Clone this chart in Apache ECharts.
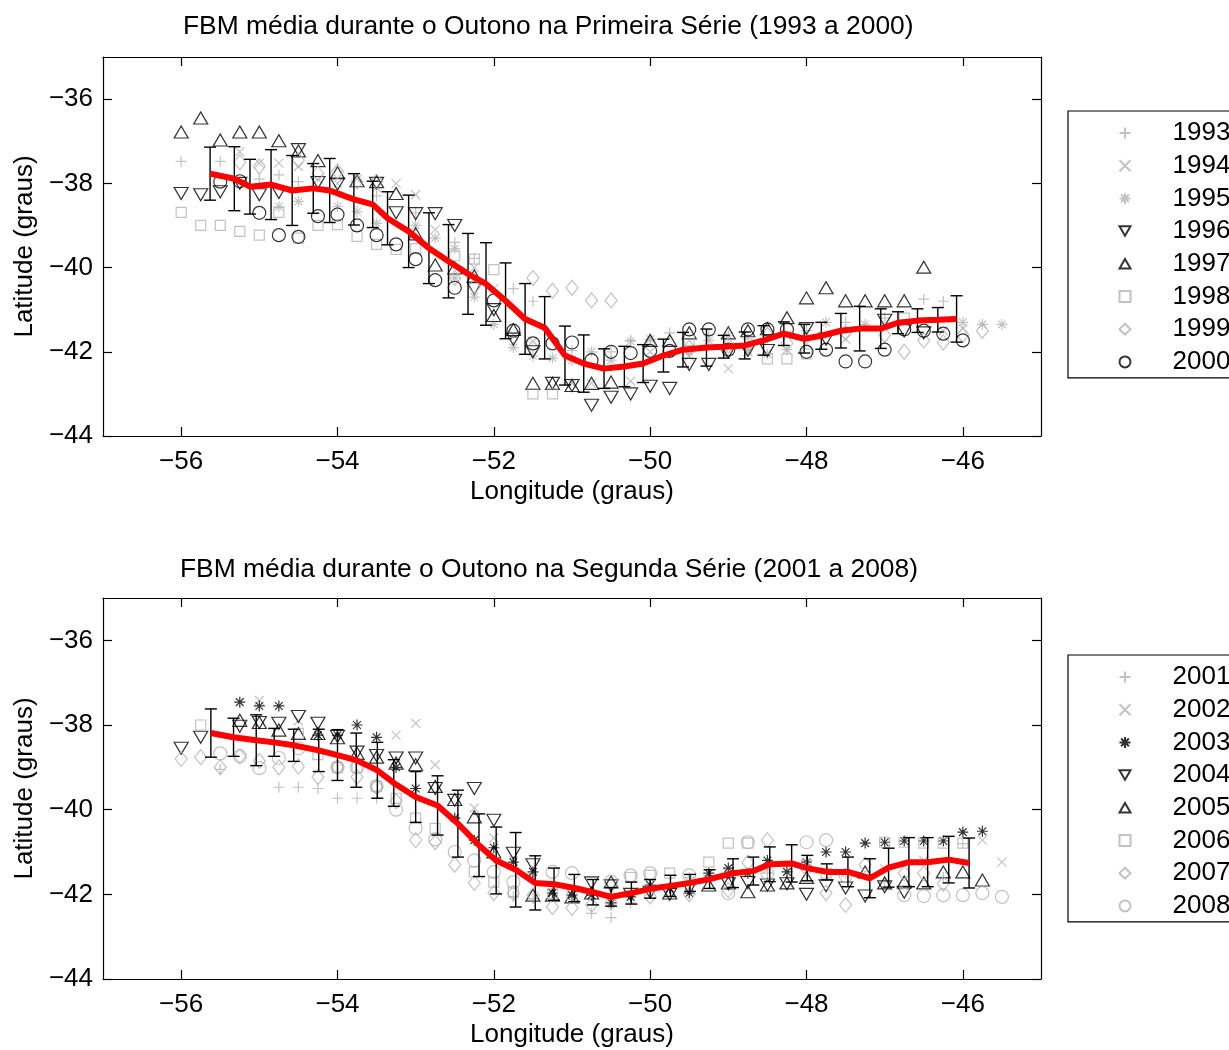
<!DOCTYPE html>
<html><head><meta charset="utf-8">
<script src="https://cdn.jsdelivr.net/npm/echarts@6/dist/echarts.min.js"></script>
<style>html,body{margin:0;padding:0;background:#fff}#c{width:1229px;height:1050px}</style>
</head><body><div id="c"></div>
<script>
// ---------- DATA ----------
const TITLE1 = 'FBM média durante o Outono na Primeira Série (1993 a 2000)';
const TITLE2 = 'FBM média durante o Outono na Segunda Série (2001 a 2008)';
const X_TICKS = [-56, -54, -52, -50, -48, -46];
const Y_TICKS = [-44, -42, -40, -38, -36];
const YEARS1 = ['1993','1994','1995','1996','1997','1998','1999','2000'];
const YEARS2 = ['2001','2002','2003','2004','2005','2006','2007','2008'];

// [longitude, latitude] per year, first series
const S1993 = [[-56,-37.48],[-55.5,-37.48],[-55,-37.9],[-54.75,-37.8],[-54.5,-37.96],[-54,-38.2],[-53.5,-38.3],[-53,-38.7],[-52.5,-39.4],[-52.25,-39.78],[-51.75,-40.5],[-51.5,-40.8],[-51,-41.97],[-50.5,-42.0],[-50.25,-41.73],[-50,-41.73],[-49.75,-41.55],[-49.25,-41.6],[-48.75,-41.7],[-48,-41.5],[-47.5,-41.3],[-47,-41.2],[-46.5,-40.75],[-46.25,-40.8]];
const S1994 = [[-55.25,-37.25],[-55,-37.52],[-54.75,-37.52],[-54.5,-37.6],[-54.25,-37.9],[-54,-38.0],[-53.75,-37.9],[-53.5,-38.1],[-53.25,-38.0],[-53,-38.27],[-52.75,-39.1],[-52.25,-40.0],[-52,-40.5],[-51.75,-41.6],[-51.5,-41.75],[-51,-42.75],[-50.75,-42.75],[-50.25,-42.7],[-50,-42.0],[-49.5,-42.1],[-49,-42.4],[-48.75,-42.0],[-48.25,-41.6],[-48,-41.8],[-47.5,-41.7],[-46.25,-41.5],[-46,-41.45]];
const S1995 = [[-54.75,-38.55],[-54.5,-38.43],[-54,-38.55],[-53.75,-38.67],[-53.5,-38.95],[-53,-39.0],[-52.75,-39.3],[-52.5,-39.55],[-52.5,-40.25],[-52.25,-40.7],[-52,-41.35],[-51.75,-41.9],[-51.5,-42.1],[-51.25,-42.15],[-51,-42.2],[-50.75,-42.0],[-50.5,-42.2],[-50.25,-41.75],[-50,-41.7],[-49.5,-42.0],[-49.25,-41.73],[-49,-41.62],[-48.75,-41.95],[-48.5,-42.05],[-48.25,-41.95],[-47.75,-41.3],[-47.25,-41.35],[-46,-41.3],[-45.75,-41.35],[-45.5,-41.35]];
const S1996 = [[-56,-38.24],[-55.75,-38.27],[-55.5,-38.2],[-55.25,-38.0],[-55,-38.27],[-54.75,-38.22],[-54.5,-37.2],[-54.25,-37.98],[-54,-38.02],[-53.5,-38.0],[-53.25,-38.7],[-53,-38.72],[-52.75,-38.72],[-52.5,-39.0],[-52.25,-40.5],[-52,-41.0],[-51.75,-41.7],[-51.5,-42.0],[-51.25,-42.75],[-51,-42.8],[-50.75,-43.27],[-50.5,-43.08],[-50.25,-43.0],[-50,-42.82],[-49.75,-42.87],[-49.5,-42.3],[-49.25,-42.3],[-49,-42.0],[-48.75,-41.97],[-48.5,-41.97],[-48,-41.45],[-47.75,-41.7],[-47,-41.25],[-46.75,-41.5],[-46.5,-41.55]];
const S1997 = [[-56,-36.78],[-55.75,-36.45],[-55.5,-36.97],[-55.25,-36.78],[-55,-36.78],[-54.75,-36.99],[-54.5,-37.23],[-54.25,-37.46],[-54,-37.75],[-53.75,-37.94],[-53.5,-37.96],[-53.25,-38.24],[-53,-39.2],[-52.75,-39.94],[-52.5,-40.01],[-52.25,-40.2],[-52,-41.14],[-51.75,-41.47],[-51.5,-42.75],[-51.25,-42.75],[-51,-42.8],[-50.75,-42.75],[-50.5,-42.72],[-50,-41.73],[-49.75,-41.73],[-49.5,-41.55],[-49,-41.55],[-48.75,-41.5],[-48.5,-41.45],[-48.25,-41.19],[-48,-40.72],[-47.75,-40.48],[-47.5,-40.79],[-47.25,-40.79],[-47,-40.79],[-46.75,-40.79],[-46.5,-39.99]];
const S1998 = [[-56,-38.69],[-55.75,-39.0],[-55.5,-39.0],[-55.25,-39.14],[-55,-39.23],[-54.75,-38.69],[-54.5,-39.3],[-54.25,-39.0],[-54,-38.98],[-53.75,-39.26],[-53.5,-39.45],[-53.25,-39.57],[-53,-39.55],[-52.5,-39.72],[-52.25,-39.8],[-52,-40.05],[-51.5,-43.0],[-51.25,-43.0],[-49.5,-41.73],[-48.5,-42.17],[-48.25,-42.17],[-48,-42.05],[-46.75,-41.2]];
const S1999 = [[-55.25,-37.5],[-55,-37.6],[-54.5,-37.45],[-54.25,-37.77],[-54,-37.72],[-53.75,-37.96],[-53.5,-37.96],[-52.5,-40.25],[-52.25,-40.45],[-51.5,-40.25],[-51.25,-40.55],[-51,-40.48],[-50.75,-40.78],[-50.5,-40.78],[-49.5,-41.9],[-49,-41.85],[-48.5,-41.6],[-48.25,-41.8],[-47.5,-41.55],[-47,-41.6],[-46.75,-42.0],[-46.5,-41.73],[-46.25,-41.78],[-46,-41.6],[-45.75,-41.5]];
const S2000 = [[-55.5,-37.96],[-55.25,-37.95],[-55,-38.7],[-54.75,-39.23],[-54.5,-39.27],[-54.25,-38.78],[-54,-38.74],[-53.75,-39.0],[-53.5,-39.23],[-53.25,-39.45],[-53,-39.8],[-52.75,-40.3],[-52.5,-40.48],[-52,-40.78],[-51.75,-41.5],[-51.5,-41.8],[-51.25,-41.8],[-51,-41.78],[-50.75,-42.2],[-50.5,-42.0],[-50.25,-42.03],[-50,-41.98],[-49.75,-41.98],[-49.5,-41.47],[-49.25,-41.47],[-49,-41.95],[-48.75,-41.47],[-48.5,-41.47],[-48.25,-41.47],[-48,-42.0],[-47.75,-41.95],[-47.5,-42.23],[-47.25,-42.23],[-47,-41.95],[-46.75,-41.47],[-46.5,-41.5],[-46.25,-41.57],[-46,-41.73]];

// second series
const S2001 = [[-55.5,-39.05],[-54.75,-39.47],[-54.5,-39.47],[-54.25,-39.5],[-54,-39.73],[-53.75,-39.73],[-53.5,-39.73],[-51.75,-42.06],[-51.5,-42.1],[-50.75,-42.45],[-50.5,-42.55],[-50.25,-42.2],[-50,-41.9],[-49.5,-41.6],[-49.25,-41.55],[-48.5,-41.5],[-48,-41.4],[-47.5,-41.5],[-47,-41.7],[-46.25,-41.6],[-46,-40.8]];
const S2002 = [[-55,-37.42],[-54.5,-37.9],[-53.25,-38.24],[-53,-37.96],[-52.75,-38.94],[-52.25,-39.96],[-52,-40.67],[-51.75,-41.2],[-51.5,-41.6],[-51,-42.0],[-50.5,-41.9],[-50,-41.8],[-49.5,-41.7],[-49,-41.5],[-48.5,-41.4],[-48,-41.3],[-47.5,-41.5],[-47,-41.4],[-46.5,-41.2],[-45.75,-40.72],[-45.5,-41.24]];
const S2003 = [[-55.25,-37.46],[-55,-37.55],[-54.75,-37.55],[-54.25,-38.24],[-54,-38.24],[-53.75,-38.0],[-53.5,-38.29],[-53.25,-39.0],[-53,-39.5],[-52.5,-40.2],[-52.25,-40.72],[-52,-40.9],[-51.75,-41.24],[-51.5,-41.47],[-51.25,-41.97],[-51,-42.02],[-50.75,-42.02],[-50.5,-42.2],[-50.25,-42.06],[-50,-41.78],[-49.75,-41.85],[-49.5,-41.97],[-49.25,-41.5],[-49,-41.38],[-48.75,-41.5],[-48.5,-41.2],[-48.25,-41.47],[-48,-41.24],[-47.75,-41.0],[-47.5,-41.0],[-47.25,-40.79],[-47,-40.77],[-46.75,-40.74],[-46.5,-40.74],[-46.25,-40.74],[-46,-40.53],[-45.75,-40.51]];
const S2004 = [[-56,-38.55],[-55.75,-38.29],[-55.25,-38.03],[-55,-37.94],[-54.75,-37.96],[-54.5,-37.8],[-54.25,-37.96],[-54,-38.27],[-53.75,-38.64],[-53.5,-38.72],[-53.25,-38.78],[-53,-38.78],[-52.75,-39.5],[-52.5,-39.78],[-52.25,-39.5],[-52,-40.25],[-51.75,-41.03],[-51.5,-41.3],[-50.75,-41.73],[-50.5,-41.8],[-50.25,-42.0],[-50,-41.95],[-49.75,-42.0],[-49.5,-41.85],[-49,-41.75],[-48.75,-41.72],[-48.5,-41.78],[-48.25,-41.75],[-48,-42.0],[-47.75,-41.8],[-47.5,-41.85],[-47.25,-42.04],[-47,-41.82],[-46.75,-41.95]];
const S2005 = [[-55.25,-37.89],[-55,-37.94],[-54.75,-38.12],[-54.5,-38.2],[-54.25,-38.2],[-54,-38.3],[-53.75,-38.67],[-53.5,-38.76],[-53.25,-38.9],[-53,-38.94],[-52.75,-39.45],[-52.5,-39.76],[-52.25,-40.17],[-52,-41.0],[-51.5,-42.02],[-51.25,-42.02],[-51,-42.06],[-50.75,-41.97],[-50.5,-41.71],[-49.75,-41.97],[-49.25,-41.78],[-49,-41.73],[-48.75,-41.94],[-48.5,-41.78],[-48.25,-41.73],[-48,-41.6],[-47.25,-41.47],[-47,-41.73],[-46.75,-41.71],[-46.5,-41.73],[-46.25,-41.47],[-46,-41.47],[-45.75,-41.66]];
const S2006 = [[-55.75,-38.0],[-54.5,-38.2],[-54.25,-38.7],[-54,-39.0],[-53.75,-39.0],[-53.5,-39.45],[-53.25,-39.73],[-53,-40.2],[-52.75,-40.44],[-52.25,-41.47],[-52,-41.71],[-51.75,-41.94],[-51.25,-41.98],[-51,-42.0],[-50.25,-41.6],[-50,-41.55],[-49.75,-41.5],[-49.25,-41.24],[-49,-40.79],[-48.75,-40.79],[-48,-41.3],[-47.75,-41.5],[-47,-40.77],[-46.75,-40.77],[-46.5,-40.79],[-46.25,-40.79],[-46,-40.79]];
const S2007 = [[-56,-38.8],[-55.75,-38.76],[-55.5,-39.0],[-55.25,-38.74],[-55,-38.85],[-54.75,-39.0],[-54.5,-38.98],[-54.25,-39.23],[-54,-39.0],[-53.75,-39.23],[-53.5,-39.46],[-53.25,-39.8],[-53,-40.72],[-52.75,-40.77],[-52.5,-41.3],[-52.25,-41.73],[-52,-41.97],[-51.75,-41.97],[-51.5,-42.02],[-51.25,-42.3],[-51,-42.32],[-50.75,-42.25],[-50.5,-42.2],[-50,-42.05],[-49.5,-42.0],[-49,-41.9],[-48.75,-41.25],[-48.5,-40.72],[-48,-41.4],[-47.75,-41.97],[-47.5,-42.25],[-47.25,-41.3],[-46.75,-41.5],[-46.5,-41.5],[-46.25,-41.75]];
const S2008 = [[-55.5,-38.67],[-55.25,-38.74],[-55,-39.02],[-54.75,-38.78],[-54.5,-38.55],[-54,-39.0],[-53.75,-39.0],[-53.5,-39.45],[-53.25,-40.0],[-53,-40.44],[-52.75,-40.7],[-52.5,-41.0],[-52.25,-41.2],[-52,-41.47],[-51.75,-41.71],[-51.25,-41.47],[-51,-41.5],[-50.5,-41.7],[-50.25,-41.55],[-50,-41.5],[-49.5,-41.55],[-49,-41.97],[-48.75,-40.77],[-48.5,-41.5],[-48,-40.77],[-47.75,-40.72],[-47.5,-41.55],[-46.75,-42.02],[-46.5,-42.04],[-46.25,-42.02],[-46,-42.02],[-45.75,-41.97],[-45.5,-42.06]];

// mean position and standard deviation
const M1_LON = [-55.63,-55.32,-55.12,-54.85,-54.58,-54.31,-54.10,-53.79,-53.55,-53.36,-53.09,-52.83,-52.58,-52.33,-52.10,-51.85,-51.60,-51.35,-51.09,-50.85,-50.59,-50.33,-50.09,-49.83,-49.58,-49.28,-49.06,-48.79,-48.55,-48.29,-48.03,-47.81,-47.56,-47.32,-47.05,-46.83,-46.58,-46.32,-46.08];
const M1_LAT = [-37.77,-37.89,-38.08,-38.03,-38.17,-38.12,-38.17,-38.38,-38.50,-38.83,-39.14,-39.54,-39.85,-40.15,-40.39,-40.79,-41.22,-41.43,-42.09,-42.28,-42.40,-42.35,-42.28,-42.09,-41.95,-41.90,-41.88,-41.85,-41.73,-41.57,-41.69,-41.62,-41.50,-41.45,-41.45,-41.31,-41.26,-41.24,-41.22];
const M1_STD = [0.63,0.76,0.65,0.83,0.83,0.59,0.76,0.61,0.55,0.63,0.86,0.84,0.87,0.96,0.98,0.90,0.84,0.74,0.70,0.68,0.47,0.48,0.45,0.39,0.41,0.44,0.27,0.32,0.35,0.28,0.34,0.32,0.41,0.53,0.47,0.26,0.28,0.29,0.55];
const M2_LON = [-55.62,-55.33,-55.04,-54.81,-54.56,-54.24,-54.0,-53.76,-53.49,-53.28,-53.0,-52.72,-52.46,-52.19,-51.97,-51.72,-51.47,-51.23,-50.97,-50.73,-50.5,-50.24,-50.0,-49.74,-49.49,-49.24,-48.94,-48.68,-48.47,-48.19,-47.99,-47.74,-47.47,-47.19,-46.95,-46.69,-46.45,-46.18,-45.92];
const M2_LAT = [-38.19,-38.29,-38.36,-38.41,-38.48,-38.60,-38.71,-38.83,-39.07,-39.37,-39.70,-39.90,-40.33,-40.84,-41.20,-41.42,-41.73,-41.76,-41.85,-41.95,-42.06,-41.97,-41.87,-41.80,-41.73,-41.64,-41.50,-41.45,-41.29,-41.27,-41.38,-41.47,-41.47,-41.62,-41.37,-41.24,-41.24,-41.18,-41.26];
const M2_STD = [0.57,0.45,0.60,0.33,0.38,0.50,0.60,0.64,0.66,0.55,0.60,0.70,0.79,0.74,0.79,0.88,0.64,0.38,0.32,0.30,0.22,0.26,0.22,0.25,0.20,0.22,0.34,0.33,0.41,0.44,0.30,0.19,0.35,0.46,0.46,0.58,0.58,0.55,0.59];

// ---------- STYLE ----------
const FONT = '"Liberation Sans", Arial, Helvetica, sans-serif';
const GRAY = '#b3b3b3', BLACK = '#000000';
const SYM = {
  plus:  {symbol:'path://M0,5L10,5M5,0L5,10', size:11},
  cross: {symbol:'path://M0,0L10,10M10,0L0,10', size:9},
  star:  {symbol:'path://M0,5L10,5M5,0L5,10M1.5,1.5L8.5,8.5M8.5,1.5L1.5,8.5', size:11},
  tdown: {symbol:'path://M0,0L10,0L5,8.66Z', size:[14,12]},
  tup:   {symbol:'path://M5,0L10,8.66L0,8.66Z', size:[14,12]},
  square:{symbol:'rect', size:10},
  diamond:{symbol:'diamond', size:[12,15]},
  circle:{symbol:'circle', size:13}
};
const SPEC1 = [
  [S1993,'plus',GRAY],[S1994,'cross',GRAY],[S1995,'star',GRAY],[S1996,'tdown',BLACK],
  [S1997,'tup',BLACK],[S1998,'square',GRAY],[S1999,'diamond',GRAY],[S2000,'circle',BLACK]];
const SPEC2 = [
  [S2001,'plus',GRAY],[S2002,'cross',GRAY],[S2003,'star',BLACK],[S2004,'tdown',BLACK],
  [S2005,'tup',BLACK],[S2006,'square',GRAY],[S2007,'diamond',GRAY],[S2008,'circle',GRAY]];

const minus = v => String(v).replace('-', '\u2212');
const txt = {fontFamily: FONT, fontSize: 26, color: '#000'};
const titleTxt = {fontFamily: FONT, fontSize: 26.4, color: '#000', fontWeight: 'normal'};

function xAxes(gi) {
  const base = {type:'value', gridIndex:gi, min:-57, max:-45, splitLine:{show:false},
    axisLine:{onZero:false, lineStyle:{color:'#000', width:1.2}},
    axisTick:{inside:true, length:9, customValues:X_TICKS, lineStyle:{color:'#000', width:1.2}}};
  return [
    Object.assign({}, base, {position:'bottom',
      axisLabel:Object.assign({customValues:X_TICKS, formatter:minus, margin:13}, txt),
      name:'Longitude (graus)', nameLocation:'middle', nameGap:43, nameTextStyle:txt}),
    Object.assign({}, base, {position:'top', axisLabel:{show:false}})
  ];
}
function yAxes(gi) {
  const base = {type:'value', gridIndex:gi, min:-44, max:-35, splitLine:{show:false},
    axisLine:{onZero:false, lineStyle:{color:'#000', width:1.2}},
    axisTick:{inside:true, length:9, customValues:Y_TICKS, lineStyle:{color:'#000', width:1.2}}};
  return [
    Object.assign({}, base, {position:'left',
      axisLabel:Object.assign({customValues:Y_TICKS, formatter:minus, margin:10}, txt),
      name:'Latitude (graus)', nameLocation:'middle', nameGap:64, nameTextStyle:txt}),
    Object.assign({}, base, {position:'right', axisLabel:{show:false}})
  ];
}

function scatterSeries(spec, names, gi) {
  return spec.map((s, i) => ({
    type:'scatter', name:names[i], xAxisIndex:gi*2, yAxisIndex:gi*2,
    data:s[0], symbol:SYM[s[1]].symbol, symbolSize:SYM[s[1]].size,
    itemStyle:{color:'none', borderColor:s[2], borderWidth:1.2},
    silent:true, z:2
  }));
}
function errSeries(lon, lat, sd, gi) {
  return {
    type:'custom', xAxisIndex:gi*2, yAxisIndex:gi*2, silent:true, z:3,
    data: lon.map((x, i) => [x, lat[i], sd[i]]),
    encode:{x:0, y:1},
    renderItem(params, api) {
      const x = api.value(0), m = api.value(1), s = api.value(2);
      const t = api.coord([x, m + s]), b = api.coord([x, m - s]);
      const hw = 6, st = {stroke:'#000', lineWidth:1.4};
      return {type:'group', children:[
        {type:'line', shape:{x1:t[0], y1:t[1], x2:b[0], y2:b[1]}, style:st},
        {type:'line', shape:{x1:t[0]-hw, y1:t[1], x2:t[0]+hw, y2:t[1]}, style:st},
        {type:'line', shape:{x1:b[0]-hw, y1:b[1], x2:b[0]+hw, y2:b[1]}, style:st}
      ]};
    }
  };
}
function meanSeries(lon, lat, gi) {
  return {type:'line', xAxisIndex:gi*2, yAxisIndex:gi*2, silent:true, z:4,
    data: lon.map((x, i) => [x, lat[i]]), symbol:'none',
    lineStyle:{color:'#ff0000', width:6}};
}
function legend(names, top) {
  return {data:names, orient:'vertical', left:1068, top:top, padding:[9,30,3,49],
    itemGap:6.7, itemWidth:11, itemHeight:11, selectedMode:false,
    borderColor:'#000', borderWidth:1.2, backgroundColor:'#fff',
    textStyle:{fontFamily:FONT, fontSize:26, color:'#000', padding:[0,0,0,37]}};
}

const chart = echarts.init(document.getElementById('c'), null, {renderer:'canvas'});
chart.setOption({
  animation:false,
  backgroundColor:'#fff',
  title:[
    {text:TITLE1, left:178, top:9, textStyle:titleTxt},
    {text:TITLE2, left:175, top:552, textStyle:titleTxt}
  ],
  grid:[
    {left:103, top:57, width:938, height:379},
    {left:103, top:598, width:938, height:381}
  ],
  xAxis:[...xAxes(0), ...xAxes(1)],
  yAxis:[...yAxes(0), ...yAxes(1)],
  legend:[legend(YEARS1, 111), legend(YEARS2, 655)],
  series:[
    ...scatterSeries(SPEC1, YEARS1, 0),
    errSeries(M1_LON, M1_LAT, M1_STD, 0),
    meanSeries(M1_LON, M1_LAT, 0),
    ...scatterSeries(SPEC2, YEARS2, 1),
    errSeries(M2_LON, M2_LAT, M2_STD, 1),
    meanSeries(M2_LON, M2_LAT, 1)
  ]
});
</script></body></html>
